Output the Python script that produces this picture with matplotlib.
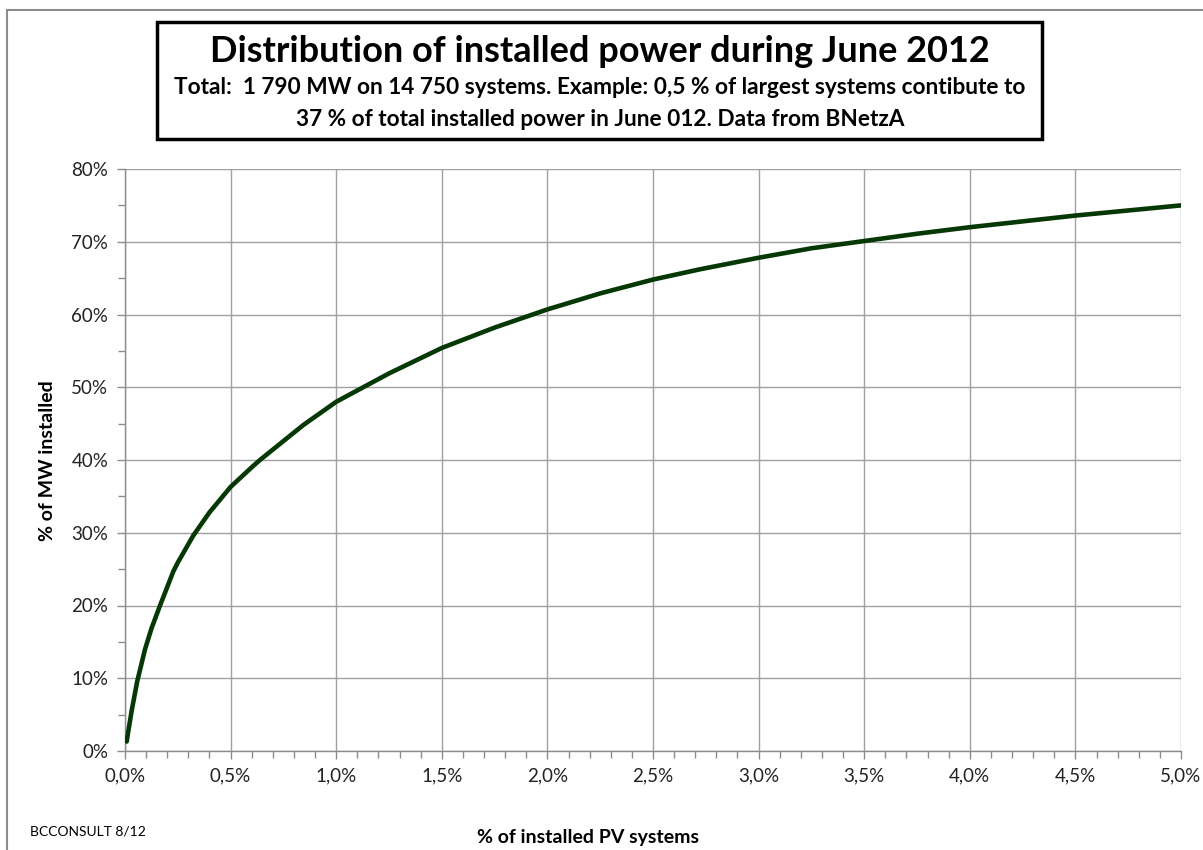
#!/usr/bin/env python3

import matplotlib
matplotlib.use('Agg')
import matplotlib.pyplot as plt
from matplotlib.ticker import FuncFormatter, MultipleLocator
from matplotlib.patches import Rectangle
from matplotlib.lines import Line2D

plt.rcParams['font.family'] = ['Lato', 'DejaVu Sans']

# share of installed PV systems (%, largest first) vs share of MW installed (%)
pct_systems = [0.008, 0.015, 0.032, 0.058, 0.095, 0.126, 0.166, 0.229, 0.25,
               0.323, 0.4, 0.5, 0.6, 0.639, 0.75, 0.844, 1.0, 1.128, 1.25,
               1.5, 1.75, 1.93, 2.0, 2.25, 2.5, 2.72, 3.0, 3.25, 3.5, 3.75, 4.0,
               4.25, 4.5, 4.75, 5.0]
pct_mw = [1.3, 2.6, 5.6, 9.6, 14.0, 16.9, 20.0, 24.7, 25.9,
          29.6, 32.8, 36.3, 39.0, 40.0, 42.6, 44.8, 48.0, 50.0, 51.9,
          55.4, 58.2, 60.0, 60.7, 62.9, 64.8, 66.2, 67.8, 69.1, 70.1, 71.1, 72.0,
          72.8, 73.6, 74.3, 75.0]

x_ticks = [0.0, 0.5, 1.0, 1.5, 2.0, 2.5, 3.0, 3.5, 4.0, 4.5, 5.0]
y_ticks = [0, 10, 20, 30, 40, 50, 60, 70, 80]

title = 'Distribution of installed power during June 2012'
subtitle_1 = 'Total:  1 790 MW on 14 750 systems. Example: 0,5 % of largest systems contibute to'
subtitle_2 = '37 % of total installed power in June 012. Data from BNetzA'

W, H = 1203, 850
fig = plt.figure(figsize=(W / 100, H / 100), dpi=100)
ax = fig.add_axes([125 / W, 1 - 751 / H, (1181 - 125) / W, (751 - 169) / H])

ax.plot(pct_systems, pct_mw, color='#063806', lw=3.3, solid_capstyle='round',
        solid_joinstyle='round', zorder=3)

ax.set_xlim(0, 5)
ax.set_ylim(0, 80)
ax.set_xticks(x_ticks)
ax.set_yticks(y_ticks)
ax.xaxis.set_minor_locator(MultipleLocator(0.1))
ax.yaxis.set_minor_locator(MultipleLocator(5))
ax.xaxis.set_major_formatter(FuncFormatter(lambda v, p: f'{v:.1f}%'.replace('.', ',')))
ax.yaxis.set_major_formatter(FuncFormatter(lambda v, p: f'{v:.0f}%'))

ax.grid(True, which='major', color='#a0a0a0', lw=1.0)
for s in ['top', 'right']:
    ax.spines[s].set_visible(False)
for s in ['left', 'bottom']:
    ax.spines[s].set_color('#8c8c8c')
    ax.spines[s].set_linewidth(1.0)
ax.tick_params(which='both', direction='out', color='#8c8c8c', width=1.0)
ax.tick_params(which='major', length=6, labelsize=13.5, colors='#8c8c8c',
               labelcolor='#222222', pad=6)
ax.tick_params(which='minor', length=5)

fig.text(48 / W, 1 - 461 / H, '% of MW installed', rotation=90, fontsize=14,
         fontweight='bold', ha='center', va='center')
fig.text(588 / W, 1 - 837 / H, '% of installed PV systems', fontsize=14,
         fontweight='bold', ha='center', va='center')
fig.text(30 / W, 1 - 832 / H, 'BCCONSULT 8/12', fontsize=10, ha='left', va='center')

# outer chart border (left and top visible)
fig.add_artist(Line2D([7 / W, 7 / W], [0, 1 - 10 / H], transform=fig.transFigure,
                      color='#8c8c8c', lw=1.5))
fig.add_artist(Line2D([7 / W, 1], [1 - 10 / H, 1 - 10 / H], transform=fig.transFigure,
                      color='#8c8c8c', lw=1.5))

# title box
fig.add_artist(Rectangle((157 / W, 1 - 139 / H), (1042 - 157) / W, (139 - 22) / H,
                         transform=fig.transFigure, fill=False, ec='black', lw=2.5))
fig.text(600 / W, 1 - 51 / H, title, fontsize=26, fontweight='bold',
         ha='center', va='center')
fig.text(600 / W, 1 - 88 / H, subtitle_1, fontsize=16.3, fontweight='bold',
         ha='center', va='center')
fig.text(600 / W, 1 - 119 / H, subtitle_2, fontsize=16.3, fontweight='bold',
         ha='center', va='center')

fig.savefig('out.png', dpi=100)
